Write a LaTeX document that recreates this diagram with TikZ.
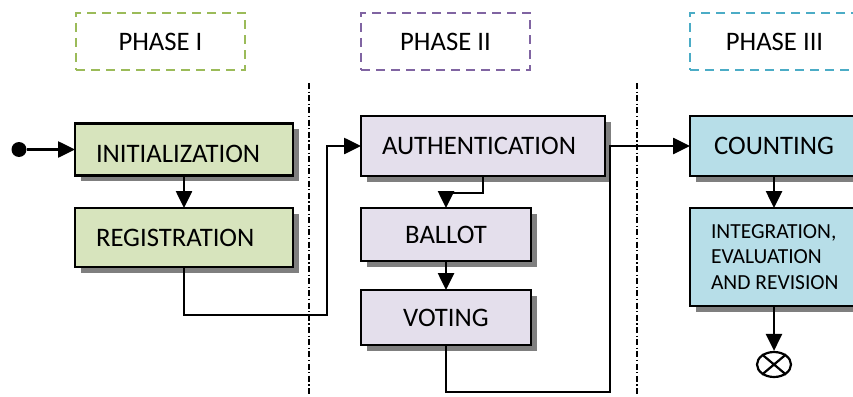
\documentclass[tikz,border=0pt]{standalone}
\usepackage{fontspec}
\setmainfont{Carlito}
\usetikzlibrary{arrows.meta,shadows,shapes.geometric}
\definecolor{phaseonecol}{HTML}{9BBB59}
\definecolor{phasetwocol}{HTML}{8064A2}
\definecolor{phasethreecol}{HTML}{4BACC6}
\definecolor{greenfill}{HTML}{D7E4BD}
\definecolor{lilacfill}{HTML}{E4DFEC}
\definecolor{bluefill}{HTML}{B7DEE8}
\definecolor{shadowgray}{HTML}{7F7F7F}
\hbadness=10000 \hfuzz=20pt
\begin{document}
\begin{tikzpicture}[x=1pt,y=-1pt,
  phasebox/.style={draw=#1, dash pattern=on 9pt off 6pt, line width=2.7pt,
    minimum width=169pt, minimum height=57pt, anchor=north west, inner sep=0pt,
    outer sep=0pt, text height=17.2pt, text depth=0pt, font=\fontsize{26.7}{31}\selectfont},
  stage/.style={draw, line width=2.2pt, fill=#1, anchor=north west, inner sep=0pt,
    outer sep=0pt,
    drop shadow={shadow xshift=5.5pt, shadow yshift=-5.5pt, fill=shadowgray, opacity=1},
    font=\fontsize{26.7}{31}\selectfont},
  oneline/.style={text height=17.2pt, text depth=0pt},
  flow/.style={line width=2.6pt, -{Triangle[length=17pt,width=16pt]}},
  divider/.style={line width=1.8pt, dash pattern=on 6pt off 2.5pt on 1.2pt off 2.5pt}]
\useasboundingbox (0,0) rectangle (853,396);
\clip (0,0) rectangle (853,396);

% phase headers
\node[phasebox=phaseonecol] (ph1) at (76,13) {PHASE I};
\node[phasebox=phasetwocol] (ph2) at (361,13) {PHASE II};
\node[phasebox=phasethreecol] (ph3) at (690,13) {PHASE III};

% phase separators
\coordinate (s1top) at (309,83);
\coordinate (s1bot) at (309,396);
\coordinate (s2top) at (637,83);
\coordinate (s2bot) at (637,396);
\draw[divider] (s1top) -- (s1bot);
\draw[divider] (s2top) -- (s2bot);

% phase I
\node[stage=greenfill, oneline, text height=25pt, minimum width=218pt, minimum height=52pt,
  text width=176pt, inner xsep=21pt, align=flush left] (init) at (75,123.5) {INITIALIZATION};
\node[stage=greenfill, oneline, minimum width=218pt, minimum height=59pt, text width=176pt,
  inner xsep=21pt, align=flush left] (reg) at (75,208) {REGISTRATION};

% phase II
\node[stage=lilacfill, oneline, minimum width=244pt, minimum height=60pt, text width=202pt,
  inner xsep=21pt, align=flush left] (auth) at (361,116) {AUTHENTICATION};
\node[stage=lilacfill, oneline, minimum width=170pt, minimum height=53pt, text width=170pt,
  align=center] (ballot) at (361,208) {BALLOT};
\node[stage=lilacfill, oneline, minimum width=170pt, minimum height=55pt, text width=170pt,
  align=center] (voting) at (361,290) {VOTING};

% phase III
\node[stage=bluefill, oneline, minimum width=168pt, minimum height=60pt, text width=168pt,
  align=center] (count) at (690,116) {COUNTING};
\node[stage=bluefill, minimum width=168pt, minimum height=98pt, text width=126pt,
  inner xsep=21pt, align=flush left, font=\fontsize{21.5}{25.5}\selectfont] (integ) at (690,208)
  {\mbox{INTEGRATION,}\\\mbox{EVALUATION}\\\mbox{AND REVISION}};

% start and end markers
\node[circle, fill, minimum size=15pt, inner sep=0pt] (start) at ([xshift=-56pt]init.west) {};
\node[ellipse, draw, line width=2.2pt, minimum width=34pt, minimum height=25pt,
  inner sep=0pt] (stop) at ([yshift=-58.5pt]integ.south) {};
\draw[line width=2.2pt] (stop.40) -- (stop.220) (stop.140) -- (stop.320);

% bend points of the long connectors
\coordinate (j1) at (327,315);
\coordinate (j2) at (610,392);

% flow
\draw[flow] (start) -- (init.west);
\draw[flow] (init.south) -- (reg.north);
\draw[flow] (reg.south) |- (j1) |- (auth.west);
\draw[flow] (auth.south) -- ++(0,17) -| (ballot.north);
\draw[flow] (ballot.south) -- (voting.north);
\draw[flow] (voting.south) |- (j2) |- (count.west);
\draw[flow] (count.south) -- (integ.north);
\draw[flow] (integ.south) -- (stop.north);
\end{tikzpicture}
\end{document}
